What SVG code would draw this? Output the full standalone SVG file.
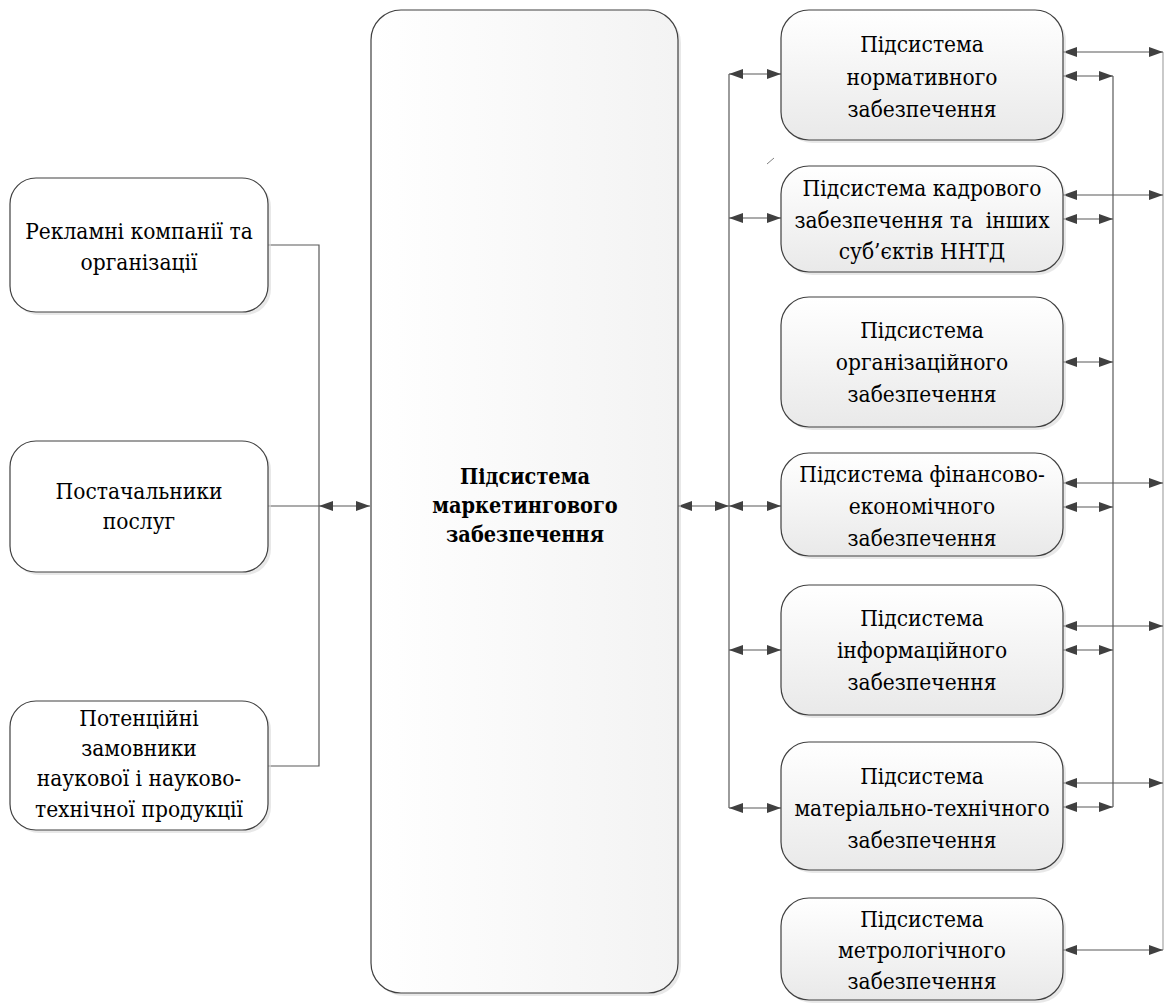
<svg xmlns="http://www.w3.org/2000/svg" width="1165" height="1003" viewBox="0 0 1165 1003">
<style>
.box{stroke:#404040;stroke-width:1.2}
.lb{fill:#ffffff}
.rb{fill:url(#g)}
.cb{fill:url(#gc)}
.sh{fill:#d9d9d9;opacity:0.6}
text{font-family:"DejaVu Serif","Liberation Serif",serif;font-stretch:condensed;font-size:22.5px;fill:#000;text-anchor:middle}
.b{font-weight:bold;font-size:21.5px}
.ln{stroke:#595959;stroke-width:1.2;fill:none}
.ar{stroke:#595959;stroke-width:1.2;fill:none;marker-start:url(#ah);marker-end:url(#ah)}
</style>
<defs>
<linearGradient id="g" x1="0" y1="0" x2="0" y2="1">
<stop offset="0" stop-color="#ffffff"/>
<stop offset="1" stop-color="#e9e9e9"/>
</linearGradient>
<linearGradient id="gc" x1="0" y1="0" x2="1" y2="0">
<stop offset="0" stop-color="#ffffff"/>
<stop offset="1" stop-color="#f3f3f3"/>
</linearGradient>
<marker id="ah" viewBox="0 0 14 10" refX="14" refY="5" markerWidth="14" markerHeight="10" markerUnits="userSpaceOnUse" orient="auto-start-reverse">
<path d="M0,0 L14,5 L0,10 z" fill="#404040"/>
</marker>
</defs>
<rect width="1165" height="1003" fill="#ffffff"/>

<g id="connectors">
<polyline class="ln" points="268,245 319,245 319,766 268,766"/>
<line class="ln" x1="268" y1="506" x2="319" y2="506"/>
<line class="ar" x1="319" y1="506" x2="370" y2="506"/>
<line class="ar" x1="678" y1="506" x2="729" y2="506"/>
<line class="ln" x1="729" y1="74" x2="729" y2="808"/>
<line class="ar" x1="729" y1="74" x2="781" y2="74"/>
<line class="ar" x1="729" y1="218" x2="781" y2="218"/>
<line class="ar" x1="729" y1="506" x2="781" y2="506"/>
<line class="ar" x1="729" y1="650" x2="781" y2="650"/>
<line class="ar" x1="729" y1="808" x2="781" y2="808"/>
<line class="ln" x1="1113" y1="76" x2="1113" y2="807"/>
<line class="ln" x1="1163" y1="52" x2="1163" y2="950" style="stroke:#a6a6a6"/>
<line class="ar" x1="1063" y1="52" x2="1163" y2="52"/>
<line class="ar" x1="1063" y1="195" x2="1163" y2="195"/>
<line class="ar" x1="1063" y1="483" x2="1163" y2="483"/>
<line class="ar" x1="1063" y1="626" x2="1163" y2="626"/>
<line class="ar" x1="1063" y1="783" x2="1163" y2="783"/>
<line class="ar" x1="1063" y1="950" x2="1163" y2="950"/>
<line class="ar" x1="1063" y1="76" x2="1113" y2="76"/>
<line class="ar" x1="1063" y1="219" x2="1113" y2="219"/>
<line class="ar" x1="1063" y1="362" x2="1113" y2="362"/>
<line class="ar" x1="1063" y1="507" x2="1113" y2="507"/>
<line class="ar" x1="1063" y1="650" x2="1113" y2="650"/>
<line class="ar" x1="1063" y1="807" x2="1113" y2="807"/>
<line class="ln" x1="767" y1="164" x2="774" y2="158" style="stroke:#808080;stroke-width:1"/>
</g>

<g id="n-reklama">
<rect class="sh" x="13" y="181" width="258" height="134" rx="26"/>
<rect class="box lb" x="10" y="178" width="258" height="134" rx="26"/>
<text x="139" y="239">Рекламні компанії та</text>
<text x="139" y="270">організації</text>
</g>
<g id="n-postach">
<rect class="sh" x="13" y="444" width="258" height="131" rx="26"/>
<rect class="box lb" x="10" y="441" width="258" height="131" rx="26"/>
<text x="139" y="499">Постачальники</text>
<text x="139" y="529">послуг</text>
</g>
<g id="n-zamovnyky">
<rect class="sh" x="13" y="704" width="258" height="129" rx="26"/>
<rect class="box lb" x="10" y="701" width="258" height="129" rx="26"/>
<text x="139" y="726">Потенційні</text>
<text x="139" y="756">замовники</text>
<text x="139" y="786">наукової і науково-</text>
<text x="139" y="817">технічної продукції</text>
</g>

<g id="n-marketing">
<rect class="sh" x="374" y="13" width="307" height="983" rx="30"/>
<rect class="box cb" x="371" y="10" width="307" height="983" rx="30"/>
<text class="b" x="525" y="484">Підсистема</text>
<text class="b" x="525" y="513">маркетингового</text>
<text class="b" x="525" y="542">забезпечення</text>
</g>

<g id="n-normatyvne">
<rect class="sh" x="784" y="13" width="282" height="130" rx="28"/>
<rect class="box rb" x="781" y="10" width="282" height="130" rx="28"/>
<text x="922" y="52">Підсистема</text>
<text x="922" y="85">нормативного</text>
<text x="922" y="117">забезпечення</text>
</g>
<g id="n-kadrove">
<rect class="sh" x="784" y="169" width="282" height="106" rx="28"/>
<rect class="box rb" x="781" y="166" width="282" height="106" rx="28"/>
<text x="922" y="196">Підсистема кадрового</text>
<text x="922" y="228" xml:space="preserve">забезпечення та  інших</text>
<text x="922" y="259">суб’єктів ННТД</text>
</g>
<g id="n-organiz">
<rect class="sh" x="784" y="300" width="282" height="130" rx="28"/>
<rect class="box rb" x="781" y="297" width="282" height="130" rx="28"/>
<text x="922" y="338">Підсистема</text>
<text x="922" y="370">організаційного</text>
<text x="922" y="402">забезпечення</text>
</g>
<g id="n-finans">
<rect class="sh" x="784" y="456" width="282" height="103" rx="28"/>
<rect class="box rb" x="781" y="453" width="282" height="103" rx="28"/>
<text x="922" y="482">Підсистема фінансово-</text>
<text x="922" y="514">економічного</text>
<text x="922" y="546">забезпечення</text>
</g>
<g id="n-inform">
<rect class="sh" x="784" y="588" width="282" height="130" rx="28"/>
<rect class="box rb" x="781" y="585" width="282" height="130" rx="28"/>
<text x="922" y="626">Підсистема</text>
<text x="922" y="658">інформаційного</text>
<text x="922" y="690">забезпечення</text>
</g>
<g id="n-mater">
<rect class="sh" x="784" y="745" width="282" height="128" rx="28"/>
<rect class="box rb" x="781" y="742" width="282" height="128" rx="28"/>
<text x="922" y="784">Підсистема</text>
<text x="922" y="816">матеріально-технічного</text>
<text x="922" y="848">забезпечення</text>
</g>
<g id="n-metrol">
<rect class="sh" x="784" y="901" width="282" height="102" rx="28"/>
<rect class="box rb" x="781" y="898" width="282" height="102" rx="28"/>
<text x="922" y="927">Підсистема</text>
<text x="922" y="958">метрологічного</text>
<text x="922" y="989">забезпечення</text>
</g>
</svg>
